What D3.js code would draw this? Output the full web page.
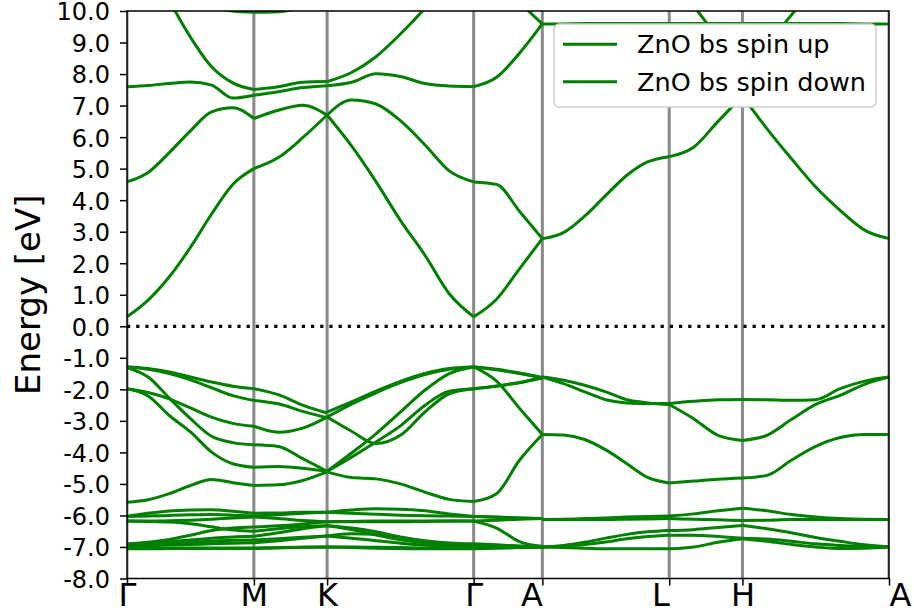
<!DOCTYPE html>
<html>
<head>
<meta charset="utf-8">
<script src="https://cdn.jsdelivr.net/npm/d3@7"></script>
<style>
  body { margin: 0; background: #fff; }
  text { font-family: "DejaVu Sans", sans-serif; }
</style>
</head>
<body>
<svg id="chart" width="914" height="614"></svg>
<script>
// High-symmetry points of the hexagonal path and their positions (1/Å)
const kLabels = ["Γ", "M", "K", "Γ", "A", "L", "H", "A"];
const kTicks = [0, 1.116, 1.760, 3.049, 3.653, 4.769, 5.413, 6.702];
const yTicks = d3.range(-8, 10.001, 1);
const seriesNames = ["ZnO bs spin up", "ZnO bs spin down"];

// Band energies (eV), each row one band sampled evenly along its branch
const bandsGM = [
  [0.30, 0.83, 1.57, 2.50, 3.56, 4.50, 5.00],
  [4.58, 4.88, 5.51, 6.20, 6.80, 6.93, 6.59],
  [7.60, 7.64, 7.70, 7.75, 7.65, 7.24, 7.33],
  [13.5, 11.8, 10.35, 9.17, 8.23, 7.72, 7.51],
  [11.5, 11.2, 10.8, 10.4, 10.15, 10.0, 9.96],
  [-1.29, -1.34, -1.45, -1.61, -1.77, -1.90, -1.98],
  [-1.29, -1.36, -1.50, -1.70, -1.95, -2.20, -2.35],
  [-1.31, -1.61, -2.28, -2.93, -3.49, -3.69, -3.76],
  [-1.98, -2.10, -2.30, -2.59, -2.88, -3.08, -3.17],
  [-1.98, -2.21, -2.83, -3.35, -3.99, -4.36, -4.47],
  [-5.58, -5.50, -5.31, -5.05, -4.86, -4.96, -5.05],
  [-6.03, -5.93, -5.86, -5.83, -5.82, -5.87, -5.93],
  [-6.03, -6.02, -6.00, -5.98, -5.97, -5.99, -6.02],
  [-6.18, -6.19, -6.21, -6.26, -6.36, -6.46, -6.50],
  [-6.18, -6.18, -6.17, -6.15, -6.12, -6.08, -6.05],
  [-6.90, -6.85, -6.76, -6.63, -6.48, -6.40, -6.37],
  [-6.92, -6.88, -6.83, -6.78, -6.72, -6.68, -6.66],
  [-6.95, -6.93, -6.90, -6.86, -6.82, -6.79, -6.78],
  [-6.97, -6.96, -6.94, -6.92, -6.90, -6.88, -6.87],
  [-7.03, -7.03, -7.03, -7.03, -7.03, -7.03, -7.03],
  [-7.06, -7.06, -7.05, -7.05, -7.05, -7.05, -7.05]
];
const bandsMK = [
  [5.00, 5.35, 5.98, 6.70],
  [6.59, 6.85, 7.01, 6.70],
  [7.33, 7.44, 7.57, 7.63],
  [7.51, 7.60, 7.74, 7.76],
  [9.96, 9.98, 10.12, 10.4],
  [-1.98, -2.17, -2.50, -2.75],
  [-2.35, -2.46, -2.70, -2.90],
  [-3.76, -3.81, -4.20, -4.60],
  [-3.17, -3.36, -3.23, -2.88],
  [-4.47, -4.45, -4.50, -4.60],
  [-5.05, -5.03, -4.89, -4.62],
  [-5.93, -5.92, -5.90, -5.90],
  [-6.02, -5.98, -5.93, -5.90],
  [-6.50, -6.42, -6.36, -6.33],
  [-6.05, -6.10, -6.16, -6.20],
  [-6.37, -6.33, -6.27, -6.20],
  [-6.66, -6.55, -6.42, -6.33],
  [-6.78, -6.74, -6.69, -6.65],
  [-6.87, -6.80, -6.72, -6.65],
  [-7.03, -7.02, -7.01, -7.00],
  [-7.05, -7.03, -7.01, -7.00]
];
const bandsKG = [
  [6.70, 5.72, 4.59, 3.36, 2.26, 1.03, 0.30],
  [6.70, 7.18, 7.05, 6.52, 5.76, 4.93, 4.58],
  [7.63, 7.74, 8.01, 7.92, 7.70, 7.62, 7.60],
  [7.76, 8.05, 8.55, 9.27, 10.08, 11.0, 12.0],
  [-2.72, -2.40, -2.06, -1.75, -1.50, -1.34, -1.29],
  [-2.88, -2.47, -2.11, -1.79, -1.53, -1.36, -1.29],
  [-2.88, -3.33, -3.72, -3.46, -2.72, -2.14, -1.98],
  [-4.60, -4.15, -3.67, -3.16, -2.51, -2.06, -1.98],
  [-4.60, -4.02, -3.41, -2.72, -2.03, -1.50, -1.29],
  [-4.62, -4.80, -4.84, -5.00, -5.26, -5.49, -5.56],
  [-5.90, -5.83, -5.79, -5.80, -5.85, -5.95, -6.03],
  [-5.90, -5.93, -5.96, -5.99, -6.01, -6.02, -6.03],
  [-6.20, -6.19, -6.18, -6.18, -6.18, -6.18, -6.18],
  [-6.20, -6.20, -6.20, -6.20, -6.19, -6.18, -6.18],
  [-6.33, -6.40, -6.52, -6.68, -6.80, -6.87, -6.90],
  [-6.33, -6.45, -6.62, -6.77, -6.86, -6.91, -6.92],
  [-6.65, -6.58, -6.60, -6.70, -6.82, -6.90, -6.95],
  [-6.65, -6.72, -6.80, -6.88, -6.94, -6.96, -6.97],
  [-7.00, -7.00, -7.01, -7.02, -7.03, -7.03, -7.03],
  [-7.00, -7.02, -7.04, -7.05, -7.06, -7.06, -7.06]
];
const bandsGA = [
  [0.30, 0.86, 1.82, 2.78],
  [4.58, 4.50, 3.65, 2.78],
  [7.60, 7.90, 8.66, 9.59],
  [12.0, 11.2, 10.3, 9.59],
  [-1.29, -1.74, -2.60, -3.43],
  [-1.29, -1.38, -1.50, -1.64],
  [-1.29, -1.36, -1.48, -1.62],
  [-1.98, -1.89, -1.78, -1.63],
  [-1.98, -1.90, -1.79, -1.64],
  [-5.56, -5.31, -4.25, -3.43],
  [-6.03, -6.05, -6.08, -6.10],
  [-6.03, -6.06, -6.08, -6.10],
  [-6.18, -6.15, -6.12, -6.10],
  [-6.18, -6.40, -6.83, -6.98],
  [-6.90, -6.93, -6.97, -7.00],
  [-6.92, -6.95, -6.98, -7.00],
  [-6.95, -6.97, -6.99, -7.00],
  [-6.97, -6.98, -6.99, -7.00],
  [-7.03, -7.02, -7.01, -7.00],
  [-7.06, -7.04, -7.02, -7.00]
];
const bandsAL = [
  [2.78, 2.97, 3.49, 4.15, 4.79, 5.22, 5.38],
  [9.59, 9.59, 9.60, 9.60, 9.60, 9.60, 9.60],
  [-1.61, -1.71, -1.87, -2.08, -2.33, -2.43, -2.48],
  [-1.61, -1.82, -2.08, -2.33, -2.43, -2.45, -2.45],
  [-3.43, -3.45, -3.59, -3.92, -4.36, -4.80, -4.97],
  [-6.13, -6.12, -6.10, -6.08, -6.05, -6.03, -6.02],
  [-6.13, -6.13, -6.13, -6.13, -6.12, -6.11, -6.10],
  [-7.00, -6.95, -6.85, -6.72, -6.60, -6.52, -6.48],
  [-7.00, -6.97, -6.92, -6.84, -6.74, -6.67, -6.63],
  [-7.00, -7.02, -7.04, -7.06, -7.06, -7.06, -7.06]
];
const bandsLH = [
  [5.38, 5.68, 6.50, 7.30],
  [9.60, 9.60, 9.60, 9.60],
  [11.2, 10.16, 9.15, 8.16],
  [-2.45, -2.38, -2.33, -2.32],
  [-2.48, -2.93, -3.46, -3.62],
  [-4.97, -4.91, -4.85, -4.81],
  [-6.02, -5.95, -5.85, -5.77],
  [-6.10, -6.12, -6.14, -6.16],
  [-6.48, -6.45, -6.38, -6.32],
  [-6.63, -6.63, -6.67, -6.72],
  [-7.06, -7.00, -6.85, -6.74]
];
const bandsHA = [
  [7.30, 6.27, 5.32, 4.42, 3.68, 3.05, 2.78],
  [9.60, 9.60, 9.60, 9.60, 9.60, 9.59, 9.59],
  [8.16, 8.95, 9.87, 10.8, 11.6, 12.3, 13.0],
  [-2.32, -2.33, -2.35, -2.33, -1.98, -1.74, -1.61],
  [-3.62, -3.46, -2.96, -2.48, -2.19, -1.84, -1.61],
  [-4.81, -4.73, -4.25, -3.81, -3.53, -3.43, -3.43],
  [-5.77, -5.85, -5.97, -6.05, -6.10, -6.12, -6.13],
  [-6.16, -6.15, -6.13, -6.13, -6.13, -6.13, -6.13],
  [-6.32, -6.42, -6.55, -6.70, -6.82, -6.93, -7.00],
  [-6.72, -6.75, -6.82, -6.90, -6.95, -6.98, -7.00],
  [-6.74, -6.82, -6.92, -7.00, -7.05, -7.04, -7.00]
];

// Branches: start tick index, end tick index, band table
const branches = [
  [0, 1, bandsGM], [1, 2, bandsMK], [2, 3, bandsKG], [3, 4, bandsGA],
  [4, 5, bandsAL], [5, 6, bandsLH], [6, 7, bandsHA]
];

const svg = d3.select("#chart");
const plot = { left: 127, right: 889, top: 11, bottom: 578.5 };
const bandColor = "#008000";

const x = d3.scaleLinear().domain([kTicks[0], kTicks[kTicks.length - 1]]).range([plot.left, plot.right]);
const y = d3.scaleLinear().domain([-8, 10]).range([plot.bottom, plot.top]);

svg.append("rect").attr("width", 914).attr("height", 614).attr("fill", "#fff");

svg.append("defs").append("clipPath").attr("id", "plot-clip")
  .append("rect")
  .attr("x", plot.left).attr("y", plot.top)
  .attr("width", plot.right - plot.left).attr("height", plot.bottom - plot.top);

const body = svg.append("g").attr("clip-path", "url(#plot-clip)");

// vertical lines at the high-symmetry points
body.selectAll("line.kline")
  .data(kTicks)
  .join("line")
  .attr("class", "kline")
  .attr("x1", d => x(d)).attr("x2", d => x(d))
  .attr("y1", plot.top).attr("y2", plot.bottom)
  .attr("stroke", "#888888")
  .attr("stroke-width", 3);

// Fermi level
body.append("line")
  .attr("x1", plot.left).attr("x2", plot.right)
  .attr("y1", y(0)).attr("y2", y(0))
  .attr("stroke", "#000")
  .attr("stroke-width", 3.2)
  .attr("stroke-dasharray", "3.2,6");

// bands, branch by branch
const line = d3.line()
  .x(d => x(d[0]))
  .y(d => y(d[1]))
  .curve(d3.curveMonotoneX);

branches.forEach(([i0, i1, table]) => {
  const k0 = kTicks[i0], k1 = kTicks[i1];
  table.forEach(row => {
    const n = row.length;
    const pts = row.map((e, j) => [k0 + (k1 - k0) * j / (n - 1), e]);
    body.append("path")
      .attr("d", line(pts))
      .attr("fill", "none")
      .attr("stroke", bandColor)
      .attr("stroke-width", 3)
      .attr("stroke-linejoin", "round");
  });
});

// frame
svg.append("rect")
  .attr("x", plot.left).attr("y", plot.top)
  .attr("width", plot.right - plot.left).attr("height", plot.bottom - plot.top)
  .attr("fill", "none").attr("stroke", "#000").attr("stroke-width", 1.5);

// y axis
const yAxis = svg.append("g")
  .attr("transform", `translate(${plot.left},0)`)
  .call(d3.axisLeft(y).tickValues(yTicks).tickFormat(d => d.toFixed(1)).tickSize(7).tickPadding(10));
yAxis.select(".domain").remove();
yAxis.selectAll(".tick line").attr("stroke", "#000").attr("stroke-width", 1.5);
yAxis.selectAll(".tick text")
  .attr("font-size", 24)
  .attr("dy", "0.37em")
  .attr("font-family", "DejaVu Sans")
  .attr("fill", "#000");

// x axis
const xAnchor = ["middle", "middle", "middle", "middle", "end", "end", "middle", "start"];
const xAxis = svg.append("g")
  .attr("transform", `translate(0,${plot.bottom})`)
  .call(d3.axisBottom(x).tickValues(kTicks).tickFormat((d, i) => kLabels[i]).tickSize(7));
xAxis.select(".domain").remove();
xAxis.selectAll(".tick line").attr("stroke", "#000").attr("stroke-width", 1.5);
xAxis.selectAll(".tick text")
  .attr("y", 27.5).attr("dy", null)
  .attr("font-size", 32)
  .attr("font-family", "DejaVu Sans")
  .attr("fill", "#000")
  .attr("text-anchor", (d, i) => xAnchor[i]);

// y label
svg.append("text")
  .attr("transform", `translate(40,${(plot.top + plot.bottom) / 2}) rotate(-90)`)
  .attr("text-anchor", "middle")
  .attr("font-size", 34)
  .attr("fill", "#000")
  .text("Energy [eV]");

// legend
const legend = svg.append("g").attr("transform", "translate(554,24)");
legend.append("rect")
  .attr("x", 0).attr("y", 0).attr("width", 322).attr("height", 83)
  .attr("rx", 5).attr("ry", 5)
  .attr("fill", "#fff")
  .attr("stroke", "#cccccc").attr("stroke-width", 1.5);
seriesNames.forEach((name, i) => {
  const cy = 20.3 + i * 37.5;
  legend.append("line")
    .attr("x1", 9).attr("x2", 63).attr("y1", cy).attr("y2", cy)
    .attr("stroke", bandColor).attr("stroke-width", 3);
  legend.append("text")
    .attr("x", 83).attr("y", cy + 9)
    .attr("font-size", 25.5)
    .attr("fill", "#000")
    .text(name);
});
</script>
</body>
</html>
